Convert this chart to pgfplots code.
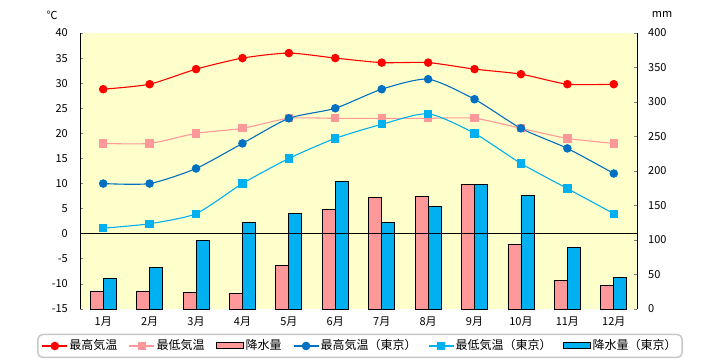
\documentclass[border=0pt]{standalone}
\usepackage{pgfplots}
\pgfplotsset{compat=1.18}
\usepackage{fontspec}
\setmainfont{Noto Sans CJK JP}
\definecolor{cRed}{HTML}{FF0000}
\definecolor{cPink}{HTML}{FF9999}
\definecolor{cDBlue}{HTML}{0070C0}
\definecolor{cLBlue}{HTML}{00B0F0}
\definecolor{cYellow}{HTML}{FFFFCC}
\begin{document}
\begin{tikzpicture}
\path[use as bounding box] (0pt,0pt) rectangle (720pt,360pt);
% ---- precipitation axis (bars, right) ----
\begin{axis}[
  at={(80pt,51pt)}, anchor=south west,
  scale only axis, width=557pt, height=276pt,
  xmin=-0.5, xmax=11.5, ymin=0, ymax=400,
  axis background/.style={fill=cYellow},
  axis y line*=right, axis x line*=bottom,
  x axis line style={draw=none},
  y axis line style={-, line width=0.8pt},
  xtick={0,...,11},
  xticklabels={1月,2月,3月,4月,5月,6月,7月,8月,9月,10月,11月,12月},
  xtick style={draw=none},
  ytick={0,50,...,400},
  tick align=inside, major tick length=3pt,
  ytick style={line width=0.8pt},
  /pgf/number format/assume math mode=true,
  ticklabel style={font=\fontsize{11}{11}\selectfont},
  yticklabel style={inner sep=0pt, xshift=11pt, anchor=west},
  xticklabel style={inner sep=0pt, yshift=-5pt, anchor=north},
  ybar=0pt, bar width=13pt,
  clip=false,
]
\addplot[fill=cPink, draw=black, line width=0.9pt] coordinates {
(0,25) (1,25.6) (2,24) (3,22.7) (4,63.3) (5,144.4) (6,161.8) (7,163.3) (8,180.7) (9,93.7) (10,41.6) (11,34.3)};
\addplot[fill=cLBlue, draw=black, line width=0.9pt] coordinates {
(0,44.5) (1,60.4) (2,99.5) (3,125.6) (4,138.6) (5,185) (6,125.6) (7,148.8) (8,180.7) (9,164.8) (10,89.4) (11,45.9)};
\node[font=\fontsize{11}{11}\selectfont] at (rel axis cs:1.045,1.069) {mm};
\end{axis}
% ---- temperature axis (lines, left) ----
\begin{axis}[
  at={(80pt,51pt)}, anchor=south west,
  scale only axis, width=557pt, height=276pt,
  xmin=-0.5, xmax=11.5, ymin=-15, ymax=40,
  axis y line*=left, axis x line=none,
  y axis line style={-, line width=0.8pt},
  ytick={-15,-10,...,40},
  tick align=inside, major tick length=3pt,
  ytick style={line width=0.8pt},
  /pgf/number format/assume math mode=true,
  ticklabel style={font=\fontsize{11}{11}\selectfont},
  yticklabel style={inner sep=0pt, xshift=-12pt, anchor=east},
  clip=false,
  legend columns=6,
  legend style={
    at={(0.5027,-0.134)}, anchor=center,
    draw=black!22, line width=1.5pt, rounded corners=5pt,
    font=\fontsize{12}{12}\selectfont,
    inner xsep=4pt, inner ysep=4pt,
    nodes={inner sep=1.5pt, text height=10pt, text depth=2pt},
    /tikz/every even column/.append style={column sep=10pt},
  },
]
\addplot[black, line width=1pt, forget plot] coordinates {(-0.5,0) (11.5,0)};
\addplot[cRed, line width=1.1pt, smooth, tension=0.4, mark=*, mark size=3.7pt, mark options={fill=cRed,draw=cRed}, forget plot] coordinates {
(0,28.8) (1,29.8) (2,32.8) (3,35) (4,36) (5,35) (6,34.1) (7,34.1) (8,32.8) (9,31.8) (10,29.8) (11,29.8)};
\addplot[cPink, line width=1.1pt, smooth, tension=0.4, mark=square*, mark size=3.6pt, mark options={fill=cPink,draw=cPink}, forget plot] coordinates {
(0,18) (1,18) (2,20) (3,21) (4,23) (5,23) (6,23) (7,23) (8,23) (9,21) (10,19) (11,18)};
\addplot[cDBlue, line width=1.1pt, smooth, tension=0.4, mark=*, mark size=3.7pt, mark options={fill=cDBlue,draw=cDBlue}, forget plot] coordinates {
(0,10) (1,10) (2,13) (3,18) (4,23) (5,25) (6,28.8) (7,30.8) (8,26.8) (9,21) (10,17) (11,12)};
\addplot[cLBlue, line width=1.1pt, smooth, tension=0.4, mark=square*, mark size=3.6pt, mark options={fill=cLBlue,draw=cLBlue}, forget plot] coordinates {
(0,1.1) (1,2) (2,4) (3,10) (4,15) (5,19) (6,21.8) (7,23.9) (8,20) (9,14) (10,9) (11,4)};
\addlegendimage{legend image code/.code={\draw[sharp corners,cRed,line width=1.1pt](0pt,0pt)--(25pt,0pt);\fill[cRed](12.5pt,0pt) circle (3.5pt);}}
\addlegendentry{最高気温}
\addlegendimage{legend image code/.code={\draw[sharp corners,cPink,line width=1.1pt](0pt,0pt)--(25pt,0pt);\fill[sharp corners,cPink](9pt,-3.5pt) rectangle (16pt,3.5pt);}}
\addlegendentry{最低気温}
\addlegendimage{legend image code/.code={\draw[sharp corners,fill=cPink,draw=black,line width=1pt](0pt,-3pt) rectangle (27pt,3pt);}}
\addlegendentry{降水量}
\addlegendimage{legend image code/.code={\draw[sharp corners,cDBlue,line width=1.1pt](0pt,0pt)--(25pt,0pt);\fill[cDBlue](12.5pt,0pt) circle (3.5pt);}}
\addlegendentry{最高気温（東京）}
\addlegendimage{legend image code/.code={\draw[sharp corners,cLBlue,line width=1.1pt](0pt,0pt)--(25pt,0pt);\fill[sharp corners,cLBlue](9pt,-3.5pt) rectangle (16pt,3.5pt);}}
\addlegendentry{最低気温（東京）}
\addlegendimage{legend image code/.code={\draw[sharp corners,fill=cLBlue,draw=black,line width=1pt](0pt,-3pt) rectangle (27pt,3pt);}}
\addlegendentry{降水量（東京）}
\node[font=\fontsize{11}{11}\selectfont] at (rel axis cs:-0.05,1.065) {℃};
\end{axis}
\end{tikzpicture}
\end{document}
